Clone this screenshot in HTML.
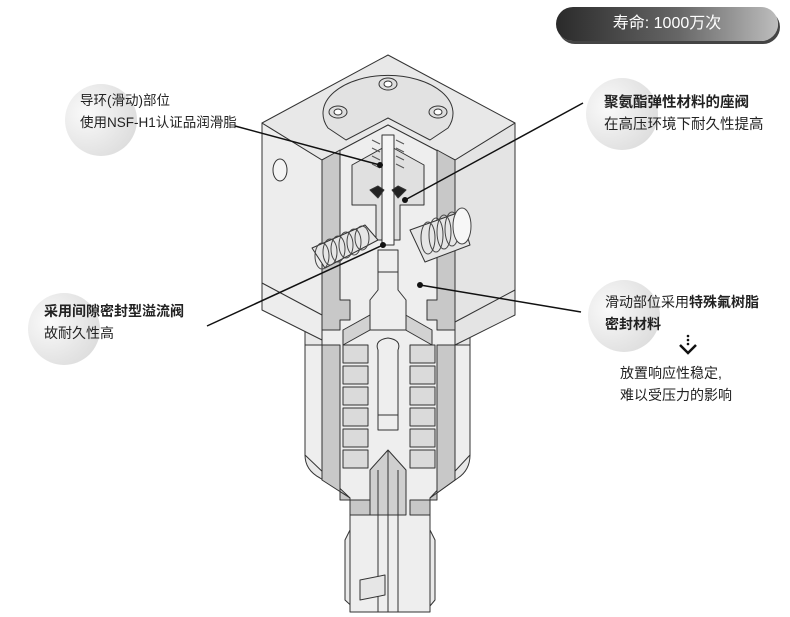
<!DOCTYPE html>
<html><head><meta charset="utf-8"><style>
html,body{margin:0;padding:0;background:#fff;}
body{width:790px;height:617px;overflow:hidden;position:relative;font-family:"Liberation Sans","Noto Sans CJK SC",sans-serif;}
.t{position:absolute;font-size:14px;line-height:22px;color:#222;white-space:nowrap;}
.c{position:absolute;border-radius:50%;background:radial-gradient(circle at 30% 40%,#fafafa 0%,#e4e4e4 60%,#d6d6d6 100%);}
</style></head><body>
<div class="c" style="left:65px;top:84px;width:72px;height:72px"></div>
<div class="c" style="left:28px;top:293px;width:72px;height:72px"></div>
<div class="c" style="left:586px;top:78px;width:72px;height:72px"></div>
<div class="c" style="left:588px;top:280px;width:72px;height:72px"></div>
<div style="position:absolute;left:556px;top:7px;width:222px;height:34px;border-radius:17px;background:linear-gradient(90deg,#2a2a2a,#666 55%,#bdbdbd);box-shadow:2px 3px 0 #444;"></div>
<div class="t" style="left:556px;top:13px;width:222px;text-align:center;color:#fff;font-size:16px;">寿命: 1000万次</div>

<svg width="790" height="617" style="position:absolute;left:0;top:0" xmlns="http://www.w3.org/2000/svg">
<g stroke="#333" stroke-width="1" stroke-linejoin="round">
<path d="M305,330 L305,455 Q305,470 320,478 L350,498 L350,515 L430,515 L430,498 L458,478 Q470,470 470,455 L470,330 Z" fill="#e8e8e8"/>
<path d="M350,515 L350,530 L345,540 L345,600 L358,612 L425,612 L435,600 L435,540 L430,530 L430,515 Z" fill="#eaeaea"/>
<polygon points="262,123 322,160 322,340 262,310" fill="#ededed"/>
<polygon points="515,123 455,160 455,345 515,315" fill="#e4e4e4"/>
<polygon points="388,55 515,123 455,160 388,125 322,160 262,123" fill="#e8e8e8"/>
<line x1="262" y1="283" x2="322" y2="315"/>
<line x1="515" y1="290" x2="455" y2="322"/>
<path d="M328,128 A65,38 0 1 1 448,128 L430,140 L388,118 L346,140 Z" fill="#e2e2e2"/>
<ellipse cx="388" cy="84" rx="9" ry="6" fill="#ddd"/><ellipse cx="388" cy="84" rx="4" ry="3" fill="#fff"/>
<ellipse cx="338" cy="112" rx="9" ry="6" fill="#ddd"/><ellipse cx="338" cy="112" rx="4" ry="3" fill="#fff"/>
<ellipse cx="438" cy="112" rx="9" ry="6" fill="#ddd"/><ellipse cx="438" cy="112" rx="4" ry="3" fill="#fff"/>
<ellipse cx="280" cy="170" rx="7" ry="11" fill="#f4f4f4"/>
<ellipse cx="431" cy="176" rx="7" ry="10" fill="#f4f4f4"/>
<polygon points="322,160 388,125 455,160 455,345 470,345 470,455 430,498 430,612 350,612 350,498 305,455 305,345 322,345" fill="#eeeeee"/>
<polygon points="322,160 340,150 340,300 350,300 350,320 340,320 340,330 322,330" fill="#c8c8c8"/>
<polygon points="437,150 455,160 455,330 437,330 437,320 427,320 427,300 437,300" fill="#c8c8c8"/>
<polygon points="322,345 340,345 340,500 370,500 370,515 350,515 350,498 322,480" fill="#c8c8c8"/>
<polygon points="437,345 455,345 455,480 430,498 430,515 410,515 410,500 437,500" fill="#c8c8c8"/>
<polygon points="343,330 388,305 432,330 432,345 388,320 343,345" fill="#d2d2d2"/>
<g fill="#dadada">
<rect x="343" y="345" width="25" height="18"/><rect x="343" y="366" width="25" height="18"/><rect x="343" y="387" width="25" height="18"/><rect x="343" y="408" width="25" height="18"/><rect x="343" y="429" width="25" height="18"/><rect x="343" y="450" width="25" height="18"/>
<rect x="410" y="345" width="25" height="18"/><rect x="410" y="366" width="25" height="18"/><rect x="410" y="387" width="25" height="18"/><rect x="410" y="408" width="25" height="18"/><rect x="410" y="429" width="25" height="18"/><rect x="410" y="450" width="25" height="18"/>
</g>
<path d="M378,350 Q374,340 388,338 Q402,340 398,350 L398,430 L378,430 Z" fill="#eee"/>
<line x1="378" y1="415" x2="398" y2="415"/>
<polygon points="370,470 388,450 406,470 406,515 370,515" fill="#cfcfcf"/>
<line x1="388" y1="450" x2="388" y2="612"/>
<line x1="378" y1="470" x2="378" y2="612"/><line x1="398" y1="470" x2="398" y2="612"/>
<path d="M360,580 L385,575 L385,595 L360,600 Z" fill="#e6e6e6"/>
<path d="M378,250 L378,290 L370,300 L370,330 L406,330 L406,300 L398,290 L398,250 Z" fill="#eee"/>
<line x1="378" y1="272" x2="398" y2="272"/>
<polygon points="352,165 388,145 424,165 424,205 400,205 400,240 376,240 376,205 352,205" fill="#e0e0e0"/>
<rect x="382" y="135" width="12" height="110" fill="#f5f5f5"/>
<path d="M370,190 l8,-4 l6,4 l-6,8 Z M406,190 l-8,-4 l-6,4 l6,8 Z" fill="#222"/>
<g stroke="#555" fill="none">
<path d="M372,140 l8,4 M372,148 l8,4 M372,156 l8,4 M372,164 l8,4 M396,140 l8,4 M396,148 l8,4 M396,156 l8,4 M396,164 l8,4"/>
</g>
<g fill="#e6e6e6">
<path d="M312,248 L365,225 L378,240 L325,268 Z"/>
<path d="M410,230 L460,212 L470,245 L425,262 Z"/>
</g>
<g fill="none" stroke="#444">
<ellipse cx="322" cy="256" rx="7" ry="13"/><ellipse cx="330" cy="252" rx="7" ry="13"/><ellipse cx="338" cy="249" rx="7" ry="13"/><ellipse cx="346" cy="245" rx="7" ry="13"/><ellipse cx="354" cy="242" rx="7" ry="13"/><ellipse cx="362" cy="238" rx="7" ry="12"/>
<ellipse cx="428" cy="238" rx="7" ry="16"/><ellipse cx="436" cy="235" rx="7" ry="17"/><ellipse cx="444" cy="232" rx="7" ry="17"/><ellipse cx="452" cy="229" rx="7" ry="17"/><ellipse cx="462" cy="226" rx="9" ry="18" fill="#f7f7f7"/>
</g>
</g>
<g stroke="#111" stroke-width="1.5">
<line x1="235" y1="126" x2="380" y2="165"/>
<line x1="583" y1="103" x2="405" y2="200"/>
<line x1="207" y1="326" x2="383" y2="245"/>
<line x1="581" y1="312" x2="420" y2="285"/>
</g>
<g fill="#111"><circle cx="380" cy="165" r="3"/><circle cx="405" cy="200" r="3"/><circle cx="383" cy="245" r="3"/><circle cx="420" cy="285" r="3"/></g>
<g fill="#111"><circle cx="688" cy="336" r="1.3"/><circle cx="688" cy="340" r="1.3"/><circle cx="688" cy="344" r="1.3"/></g>
<polyline points="680,345 688,353 696,345" fill="none" stroke="#111" stroke-width="2.5"/>
</svg>

<div class="t" style="left:80px;top:90px;font-size:13.5px;">导环(滑动)部位<br>使用NSF-H1认证品润滑脂</div>
<div class="t" style="left:44px;top:300px;font-weight:bold;">采用间隙密封型溢流阀<br><span style="font-weight:normal">故耐久性高</span></div>
<div class="t" style="left:604px;top:92px;font-size:14.5px;"><b>聚氨酯弹性材料的座阀</b><br>在高压环境下耐久性提高</div>
<div class="t" style="left:605px;top:291px;">滑动部位采用<b>特殊氟树脂</b><br><b>密封材料</b></div>
<div class="t" style="left:620px;top:362px;">放置响应性稳定,<br>难以受压力的影响</div>
</body></html>
